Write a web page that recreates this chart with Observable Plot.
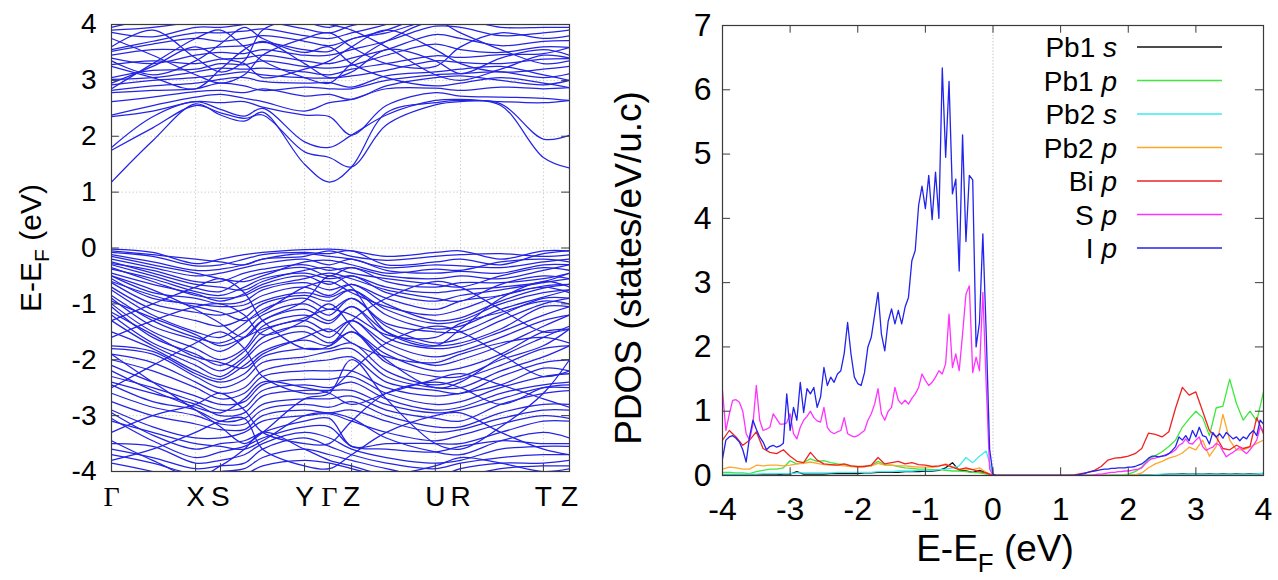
<!DOCTYPE html>
<html><head><meta charset="utf-8">
<script src="https://cdn.jsdelivr.net/npm/d3@7"></script>
<script src="https://cdn.jsdelivr.net/npm/@observablehq/plot@0.6"></script>
<style>
body{margin:0;background:#fff;}
#wrap{position:relative;width:1278px;height:580px;overflow:hidden;background:#fff;}
#left,#right{position:absolute;top:0;}
#left{left:0;} #right{left:600px;}
svg text{font-family:"Liberation Sans",Arial,sans-serif;}
</style></head>
<body><div id="wrap"><div id="left"></div><div id="right"></div></div>
<script>
// ---------- Band structure data ----------
const kPoints = [0, 0.09, 0.1836, 0.2379, 0.29, 0.33, 0.4215, 0.4758, 0.5242, 0.60, 0.707, 0.762, 0.85, 0.943, 1.0];
const kTickPos = [0, 0.1836, 0.2379, 0.4215, 0.4758, 0.5242, 0.707, 0.762, 0.943, 1.0];
const kTickLabels = ["Γ", "X", "S", "Y", "Γ", "Z", "U", "R", "T", "Z"];
const bandYTicks = [-4, -3, -2, -1, 0, 1, 2, 3, 4];

const conductionBands = [
  [1.18, 1.92, 2.58, 2.38, 2.27, 2.43, 1.50, 1.18, 1.45, 2.42, 2.60, 2.64, 2.55, 1.62, 1.43],
  [1.75, 2.15, 2.55, 2.42, 2.32, 2.38, 1.72, 1.62, 1.45, 2.20, 2.56, 2.62, 2.58, 1.95, 2.02],
  [1.80, 2.35, 2.62, 2.48, 2.36, 2.50, 1.90, 1.80, 2.02, 2.38, 2.64, 2.66, 2.62, 2.60, 2.64],
  [2.35, 2.45, 2.62, 2.60, 2.62, 2.52, 2.38, 2.35, 2.02, 2.55, 2.78, 2.72, 2.70, 2.68, 2.64],
  [2.38, 2.55, 2.70, 2.75, 2.68, 2.62, 2.45, 2.60, 2.66, 2.85, 2.86, 2.82, 2.88, 2.85, 2.87],
  [2.62, 2.70, 2.80, 2.82, 2.78, 2.85, 2.72, 2.75, 2.66, 2.90, 3.05, 3.08, 3.00, 2.92, 3.00],
  [2.78, 2.82, 2.85, 2.95, 2.90, 2.82, 2.88, 2.85, 2.85, 3.00, 3.10, 3.12, 3.15, 3.05, 3.12],
  [2.82, 2.90, 2.95, 3.02, 3.05, 2.98, 2.95, 2.96, 2.88, 3.08, 3.15, 3.20, 3.25, 3.10, 3.00],
  [2.92, 3.00, 3.05, 3.10, 3.15, 3.10, 3.05, 3.04, 3.08, 3.18, 3.35, 3.32, 3.30, 3.38, 3.39],
  [3.02, 3.05, 3.15, 3.22, 3.20, 3.22, 3.15, 3.10, 3.20, 3.30, 3.44, 3.41, 3.46, 3.48, 3.59],
  [3.05, 3.18, 3.20, 3.30, 3.28, 3.35, 3.25, 3.22, 3.27, 3.45, 3.65, 3.55, 3.50, 3.60, 3.59],
  [3.28, 3.35, 3.30, 3.38, 3.40, 3.45, 3.35, 3.30, 3.40, 3.55, 3.82, 3.75, 3.62, 3.70, 3.71],
  [3.40, 3.30, 3.45, 3.50, 3.48, 3.55, 3.45, 3.45, 3.55, 3.70, 3.97, 3.95, 3.80, 3.85, 3.90],
  [3.45, 3.55, 3.55, 3.60, 3.62, 3.68, 3.55, 3.52, 3.74, 3.85, 4.10, 4.10, 3.95, 3.95, 3.95],
  [3.52, 3.65, 3.75, 3.70, 3.75, 3.80, 3.70, 3.62, 3.74, 3.90, 4.20, 4.20, 4.10, 4.05, 4.10],
  [3.55, 3.70, 3.85, 3.85, 3.88, 3.92, 3.80, 3.75, 3.85, 4.00, 4.30, 4.30, 4.20, 4.15, 4.20],
  [3.86, 3.78, 3.95, 3.95, 4.00, 4.05, 3.92, 3.85, 3.98, 4.10, 4.40, 4.40, 4.30, 4.25, 4.30],
  [3.90, 3.95, 4.05, 4.10, 4.15, 4.20, 4.05, 3.95, 4.10, 4.20, 4.50, 4.50, 4.40, 4.35, 4.40],
  [3.95, 4.10, 4.20, 4.20, 4.25, 4.30, 4.15, 4.05, 4.20, 4.30, 4.60, 4.60, 4.50, 4.45, 4.50],
  [2.95, 3.25, 3.60, 3.40, 3.30, 3.05, 3.20, 3.35, 3.60, 3.90, 3.55, 3.30, 3.15, 3.20, 3.25],
  [3.25, 3.05, 2.85, 3.20, 3.55, 3.70, 3.30, 3.05, 3.15, 3.55, 3.35, 3.12, 3.40, 3.55, 3.45],
  [3.75, 3.45, 3.10, 2.95, 3.10, 3.45, 3.75, 3.85, 3.60, 3.30, 3.25, 3.60, 3.85, 3.75, 3.80],
  [2.85, 3.30, 3.75, 3.90, 3.60, 3.35, 3.05, 2.95, 3.30, 3.70, 4.05, 3.85, 3.55, 3.30, 3.35],
  [3.60, 3.90, 3.40, 3.15, 3.35, 3.90, 4.10, 4.00, 3.90, 3.60, 3.10, 3.00, 3.20, 3.45, 3.40],
  [3.35, 3.10, 3.35, 3.65, 3.95, 3.75, 3.50, 3.60, 3.30, 3.05, 2.90, 2.95, 3.05, 2.95, 2.87]
];

const valenceBands = [
  [-0.02, -0.08, -0.28, -0.20, -0.12, -0.08, -0.03, -0.02, -0.05, -0.15, -0.08, -0.05, -0.20, -0.05, -0.05],
  [-0.05, -0.12, -0.20, -0.25, -0.30, -0.20, -0.15, -0.05, -0.15, -0.22, -0.15, -0.12, -0.10, -0.15, -0.12],
  [-0.08, -0.15, -0.32, -0.30, -0.20, -0.12, -0.08, -0.10, -0.05, -0.30, -0.25, -0.20, -0.30, -0.10, -0.05],
  [-0.12, -0.25, -0.40, -0.38, -0.30, -0.20, -0.10, -0.15, -0.20, -0.35, -0.30, -0.32, -0.35, -0.25, -0.20],
  [-0.15, -0.30, -0.45, -0.55, -0.60, -0.50, -0.25, -0.22, -0.30, -0.45, -0.38, -0.40, -0.25, -0.20, -0.25],
  [-0.20, -0.35, -0.50, -0.45, -0.35, -0.28, -0.20, -0.30, -0.20, -0.40, -0.45, -0.42, -0.45, -0.30, -0.30],
  [-0.25, -0.45, -0.65, -0.70, -0.75, -0.60, -0.40, -0.35, -0.45, -0.55, -0.65, -0.70, -0.50, -0.35, -0.40],
  [-0.28, -0.40, -0.60, -0.60, -0.45, -0.38, -0.30, -0.40, -0.35, -0.50, -0.55, -0.50, -0.55, -0.40, -0.30],
  [-0.30, -0.50, -0.72, -0.78, -0.55, -0.45, -0.35, -0.50, -0.35, -0.60, -0.70, -0.62, -0.62, -0.55, -0.45],
  [-0.35, -0.60, -0.85, -0.90, -0.85, -0.70, -0.55, -0.45, -0.55, -0.75, -0.90, -0.95, -0.65, -0.50, -0.55],
  [-0.38, -0.55, -0.78, -0.85, -0.70, -0.55, -0.45, -0.55, -0.50, -0.70, -0.80, -0.75, -0.70, -0.60, -0.45],
  [-0.45, -0.65, -0.82, -0.95, -0.82, -0.65, -0.50, -0.65, -0.50, -0.80, -0.95, -0.85, -0.75, -0.62, -0.55],
  [-0.50, -0.80, -0.90, -1.00, -0.95, -0.75, -0.62, -0.75, -0.65, -0.90, -1.10, -0.95, -0.85, -0.68, -0.65],
  [-0.50, -0.75, -1.10, -1.35, -1.60, -1.30, -0.95, -0.50, -0.70, -1.50, -1.75, -1.45, -0.90, -0.60, -0.70],
  [-0.55, -0.90, -1.00, -1.05, -1.02, -0.85, -0.70, -0.85, -0.65, -1.00, -1.30, -1.25, -0.95, -0.72, -0.65],
  [-0.60, -0.85, -1.05, -1.15, -1.30, -1.15, -0.70, -0.60, -0.80, -1.05, -1.20, -1.10, -0.85, -0.70, -0.80],
  [-0.62, -1.00, -1.15, -1.20, -1.10, -0.95, -0.80, -0.88, -0.75, -1.10, -1.35, -1.30, -1.00, -0.80, -0.75],
  [-0.70, -1.10, -1.30, -1.40, -1.25, -1.00, -0.85, -0.95, -0.75, -1.20, -1.45, -1.40, -1.10, -0.88, -0.75],
  [-0.75, -1.20, -1.50, -1.60, -1.35, -1.10, -0.90, -1.10, -0.90, -1.35, -1.50, -1.50, -1.20, -0.90, -0.90],
  [-0.85, -1.30, -1.60, -1.70, -1.50, -1.20, -1.00, -1.20, -0.90, -1.40, -1.70, -1.62, -1.30, -1.00, -0.90],
  [-0.90, -1.40, -1.65, -1.85, -1.60, -1.30, -1.10, -1.30, -1.05, -1.50, -1.75, -1.70, -1.45, -1.05, -1.05],
  [-0.95, -1.25, -1.55, -1.75, -1.60, -1.45, -1.25, -1.10, -1.20, -1.55, -1.60, -1.35, -1.15, -0.95, -1.00],
  [-1.00, -1.50, -1.80, -2.00, -1.80, -1.40, -1.20, -1.35, -1.05, -1.60, -1.80, -1.75, -1.50, -1.20, -1.05],
  [-1.05, -1.60, -1.90, -2.10, -1.85, -1.50, -1.30, -1.50, -1.30, -1.70, -1.95, -1.85, -1.60, -1.30, -1.20],
  [-1.15, -1.55, -1.95, -2.05, -2.15, -1.90, -1.60, -1.45, -1.70, -1.95, -2.05, -1.90, -1.70, -1.60, -1.70],
  [-1.20, -1.70, -2.00, -2.20, -1.95, -1.60, -1.40, -1.60, -1.30, -1.80, -2.10, -2.00, -1.75, -1.40, -1.20],
  [-1.30, -1.00, -0.70, -0.55, -0.80, -1.30, -1.80, -1.75, -1.30, -0.90, -0.60, -0.70, -1.10, -1.50, -1.45],
  [-1.30, -1.75, -2.10, -2.30, -2.00, -1.70, -1.50, -1.70, -1.50, -1.90, -2.20, -2.15, -1.90, -1.50, -1.45],
  [-1.50, -1.80, -2.20, -2.35, -2.10, -1.85, -1.65, -1.75, -1.50, -2.05, -2.30, -2.30, -2.00, -1.75, -1.45],
  [-1.60, -1.30, -1.05, -1.00, -1.20, -1.55, -1.30, -1.00, -1.40, -2.00, -2.50, -2.40, -1.95, -1.60, -1.40],
  [-1.75, -1.85, -2.25, -2.40, -2.25, -1.95, -1.80, -1.80, -1.70, -2.20, -2.45, -2.35, -2.10, -1.80, -1.75],
  [-1.80, -1.90, -2.30, -2.50, -2.35, -2.05, -1.95, -1.85, -1.80, -2.30, -2.50, -2.50, -2.20, -1.95, -1.75],
  [-1.90, -2.05, -2.40, -2.60, -2.50, -2.20, -2.05, -2.00, -1.95, -2.40, -2.55, -2.60, -2.30, -2.05, -2.00],
  [-1.90, -2.40, -2.90, -3.20, -3.50, -3.30, -2.70, -2.60, -2.00, -2.70, -3.50, -3.60, -3.20, -2.60, -2.00],
  [-2.00, -2.20, -2.50, -2.70, -2.60, -2.30, -2.20, -2.20, -2.20, -2.50, -2.65, -2.60, -2.45, -2.15, -2.20],
  [-2.10, -2.40, -2.65, -2.80, -2.75, -2.45, -2.35, -2.35, -2.30, -2.60, -2.80, -2.75, -2.50, -2.30, -2.25],
  [-2.20, -2.55, -2.85, -2.95, -2.70, -2.40, -2.50, -2.60, -2.80, -2.60, -2.35, -2.25, -2.45, -2.70, -2.85],
  [-2.30, -2.50, -2.75, -2.90, -2.85, -2.55, -2.45, -2.50, -2.40, -2.70, -2.90, -2.85, -2.60, -2.45, -2.40],
  [-2.40, -2.60, -2.80, -3.00, -2.95, -2.65, -2.55, -2.55, -2.55, -2.80, -2.95, -2.90, -2.70, -2.50, -2.50],
  [-2.45, -2.75, -2.90, -3.10, -3.05, -2.80, -2.70, -2.70, -2.65, -2.90, -3.05, -3.10, -2.80, -2.60, -2.55],
  [-2.50, -2.10, -1.70, -1.50, -1.80, -2.30, -2.60, -2.55, -2.20, -1.70, -1.40, -1.50, -1.90, -2.30, -2.20],
  [-2.60, -2.85, -3.00, -3.15, -3.15, -2.90, -2.80, -2.85, -2.75, -3.00, -3.20, -3.20, -2.95, -2.80, -2.80],
  [-2.75, -3.00, -3.15, -3.25, -3.25, -3.00, -2.90, -2.95, -2.90, -3.10, -3.30, -3.25, -3.05, -2.90, -2.90],
  [-2.90, -3.20, -3.40, -3.40, -3.30, -3.10, -3.00, -2.97, -3.10, -3.30, -3.45, -3.35, -3.15, -3.00, -3.05],
  [-2.95, -3.35, -3.60, -3.50, -3.45, -3.30, -3.10, -3.05, -3.55, -3.50, -3.50, -3.50, -3.30, -3.10, -3.10],
  [-3.05, -3.45, -3.75, -3.65, -3.55, -3.40, -3.20, -3.20, -3.55, -3.60, -3.65, -3.55, -3.45, -3.50, -3.50],
  [-3.10, -3.30, -3.50, -3.55, -3.60, -3.45, -3.00, -2.95, -3.05, -3.40, -3.65, -3.70, -3.45, -3.30, -3.40],
  [-3.30, -3.00, -2.80, -2.60, -2.90, -3.30, -3.50, -3.50, -3.10, -2.60, -2.40, -2.50, -2.80, -2.50, -2.45],
  [-3.45, -3.80, -4.10, -3.90, -3.60, -3.30, -3.60, -3.80, -3.90, -4.05, -3.90, -3.75, -3.85, -4.00, -3.95],
  [-3.50, -3.55, -3.85, -3.80, -3.70, -3.50, -3.30, -3.40, -3.60, -3.75, -3.85, -3.80, -3.60, -3.55, -3.55],
  [-3.60, -3.75, -3.95, -3.90, -3.85, -3.60, -3.40, -3.55, -3.70, -3.85, -3.95, -3.85, -3.75, -3.70, -3.70],
  [-3.70, -3.85, -4.05, -4.00, -3.95, -3.75, -3.60, -3.70, -3.80, -3.95, -4.10, -3.95, -3.85, -3.85, -3.80],
  [-3.80, -3.60, -3.30, -3.10, -3.05, -3.60, -3.90, -3.95, -3.70, -3.30, -3.00, -2.95, -3.30, -3.60, -3.70],
  [-3.85, -4.00, -4.20, -4.10, -4.05, -3.90, -3.80, -3.85, -3.95, -4.10, -4.20, -4.10, -3.95, -3.90, -3.90]
];

// ---------- PDOS data ----------
const seriesNames = ["Pb1 s", "Pb1 p", "Pb2 s", "Pb2 p", "Bi p", "S p", "I p"];
const seriesColors = ["#111111", "#3ee83e", "#3eeaf0", "#ffa62b", "#ee2424", "#ff33ff", "#2323ee"];
const pdosXTicks = [-4, -3, -2, -1, 0, 1, 2, 3, 4];
const pdosYTicks = [0, 1, 2, 3, 4, 5, 6, 7];

// fine grid: -4.00 .. 4.00 step 0.05 (161 samples)
const energyFine = d3.range(161).map(i => +(-4 + i * 0.05).toFixed(2));
// coarse grid: -4.0 .. 4.0 step 0.1 (81 samples)
const energyCoarse = d3.range(81).map(i => +(-4 + i * 0.1).toFixed(1));

const iP = [
  0.26, 0.55, 0.60, 0.62, 0.58, 0.52, 0.40, 0.21, 0.60, 0.86,
  0.72, 0.60, 0.52, 0.40, 0.45, 0.47, 0.44, 0.46, 0.50, 1.27,
  0.70, 1.06, 0.86, 1.45, 0.98, 1.35, 1.27, 1.37, 1.06, 1.22,
  1.68, 1.40, 1.53, 1.45, 1.58, 1.63, 1.90, 2.38, 1.89, 1.53,
  1.43, 1.40, 1.60, 2.00, 2.15, 2.50, 2.85, 2.20, 1.94, 2.40,
  2.59, 2.36, 2.57, 2.36, 2.62, 2.77, 3.34, 3.50, 4.20, 4.50,
  4.15, 4.67, 3.98, 4.72, 4.00, 6.34, 4.95, 6.13, 4.38, 4.61,
  3.18, 5.30, 3.64, 4.67, 4.60, 2.00, 2.38, 3.76, 2.20, 0.41,
  0.02,
  0, 0, 0, 0, 0, 0, 0, 0, 0, 0, 0, 0, 0, 0, 0, 0, 0, 0, 0, 0, 0, 0, 0, 0,
  0.01, 0.02, 0.03, 0.05, 0.06, 0.07, 0.08, 0.09, 0.10, 0.10,
  0.11, 0.11, 0.12, 0.12, 0.12, 0.13, 0.13, 0.14, 0.16, 0.18,
  0.22, 0.27, 0.30, 0.30, 0.29, 0.30, 0.31, 0.34, 0.39, 0.45,
  0.60, 0.55, 0.62, 0.54, 0.70, 0.60, 0.75, 0.62, 0.60, 0.49,
  0.67, 0.60, 0.65, 0.58, 0.67, 0.62, 0.57, 0.60, 0.54, 0.60,
  0.57, 0.65, 0.70, 0.62, 0.86, 0.80
];
const sP = [
  1.32, 0.70, 0.95, 1.17, 1.18, 1.14, 1.00, 0.65, 0.55, 0.80,
  1.40, 0.86, 0.70, 0.72, 0.75, 0.96, 0.88, 0.80, 0.80, 0.82,
  0.96, 0.65, 0.57, 0.75, 0.86, 0.92, 1.00, 0.90, 0.85, 0.83,
  1.06, 0.75, 0.68, 0.65, 0.68, 0.70, 0.90, 0.65, 0.62, 0.60,
  0.62, 0.66, 0.70, 0.86, 0.96, 1.11, 1.35, 0.96, 0.86, 1.00,
  1.06, 1.37, 1.17, 1.11, 1.17, 1.11, 1.20, 1.27, 1.37, 1.58,
  1.48, 1.40, 1.45, 1.53, 1.63, 1.58, 1.74, 2.51, 1.68, 1.89,
  1.63, 2.20, 2.82, 2.95, 1.60, 1.84, 1.63, 2.85, 1.40, 0.10,
  0,
  0, 0, 0, 0, 0, 0, 0, 0, 0, 0, 0, 0, 0, 0, 0, 0, 0, 0, 0, 0, 0, 0, 0, 0, 0, 0, 0, 0, 0,
  0.01, 0.02, 0.02, 0.03, 0.04, 0.05, 0.05, 0.06, 0.06, 0.07,
  0.07, 0.08, 0.09, 0.10, 0.12, 0.18, 0.23, 0.26, 0.27, 0.29,
  0.30, 0.32, 0.34, 0.36, 0.40, 0.47, 0.50, 0.57, 0.50, 0.49,
  0.55, 0.60, 0.45, 0.39, 0.42, 0.44, 0.50, 0.47, 0.38, 0.29,
  0.33, 0.36, 0.40, 0.44, 0.38, 0.34, 0.40, 0.47, 0.55, 0.75,
  0.70
];
const biP = [
  0.55, 0.70, 0.60, 0.47, 0.55, 0.68, 0.42, 0.36, 0.34, 0.40,
  0.30, 0.22, 0.20, 0.36, 0.24, 0.18, 0.17, 0.16, 0.18, 0.15,
  0.14, 0.14, 0.16, 0.28, 0.18, 0.20, 0.22, 0.18, 0.20, 0.17,
  0.16, 0.14, 0.15, 0.17, 0.13, 0.09, 0.12, 0.09, 0.06, 0.04,
  0,
  0, 0, 0, 0, 0, 0, 0, 0, 0, 0, 0,
  0.01, 0.03, 0.05, 0.08, 0.14, 0.24, 0.27, 0.28, 0.30, 0.34,
  0.42, 0.66, 0.64, 0.60, 0.68, 1.05, 1.37, 1.25, 1.30, 1.00,
  0.70, 0.60, 0.42, 0.40, 0.47, 0.42, 0.45, 0.90, 0.65
];
const pb1P = [
  0.05, 0.05, 0.04, 0.04, 0.03, 0.06, 0.08, 0.10, 0.10, 0.12,
  0.23, 0.18, 0.20, 0.26, 0.22, 0.23, 0.20, 0.18, 0.17, 0.15,
  0.13, 0.14, 0.15, 0.22, 0.17, 0.16, 0.14, 0.12, 0.11, 0.10,
  0.10, 0.09, 0.09, 0.08, 0.07, 0.07, 0.06, 0.05, 0.04, 0.02,
  0,
  0, 0, 0, 0, 0, 0, 0, 0, 0, 0, 0,
  0, 0, 0, 0, 0, 0, 0.01, 0.01, 0.02, 0.06,
  0.13, 0.25, 0.31, 0.37, 0.45, 0.55, 0.75, 0.88, 1.00, 0.90,
  0.62, 1.05, 1.08, 1.50, 1.12, 0.86, 1.00, 0.85, 1.30
];
const pb2P = [
  0.10, 0.13, 0.12, 0.10, 0.10, 0.16, 0.15, 0.16, 0.16, 0.15,
  0.16, 0.18, 0.19, 0.21, 0.19, 0.17, 0.16, 0.16, 0.15, 0.14,
  0.13, 0.14, 0.15, 0.19, 0.16, 0.16, 0.15, 0.15, 0.14, 0.13,
  0.13, 0.13, 0.14, 0.18, 0.13, 0.10, 0.10, 0.09, 0.12, 0.05,
  0,
  0, 0, 0, 0, 0, 0, 0, 0, 0, 0, 0,
  0, 0, 0, 0, 0, 0, 0, 0, 0, 0.01,
  0.04, 0.12, 0.18, 0.22, 0.27, 0.30, 0.35, 0.44, 0.40, 0.55,
  0.30, 0.45, 0.95, 0.55, 0.40, 0.40, 0.44, 0.50, 0.55
];
const pb2S = [
  0.02, 0.02, 0.02, 0.02, 0.02, 0.02, 0.03, 0.03, 0.03, 0.03,
  0.03, 0.04, 0.04, 0.04, 0.04, 0.04, 0.04, 0.05, 0.05, 0.05,
  0.05, 0.05, 0.05, 0.06, 0.06, 0.06, 0.07, 0.07, 0.07, 0.08,
  0.08, 0.08, 0.09, 0.10, 0.12, 0.15, 0.28, 0.20, 0.30, 0.38,
  0,
  0, 0, 0, 0, 0, 0, 0, 0, 0, 0, 0,
  0, 0, 0, 0, 0, 0, 0, 0, 0, 0.005,
  0.01, 0.01, 0.015, 0.02, 0.02, 0.02, 0.02, 0.02, 0.025, 0.02,
  0.02, 0.02, 0.02, 0.02, 0.02, 0.02, 0.02, 0.02, 0.04
];
const pb1S = [
  0.01, 0.01, 0.01, 0.01, 0.01, 0.01, 0.01, 0.01, 0.01, 0.02,
  0.02, 0.06, 0.02, 0.02, 0.02, 0.02, 0.03, 0.03, 0.03, 0.03,
  0.03, 0.04, 0.04, 0.05, 0.05, 0.05, 0.05, 0.06, 0.06, 0.06,
  0.07, 0.07, 0.08, 0.12, 0.20, 0.08, 0.07, 0.05, 0.08, 0.04,
  0,
  0, 0, 0, 0, 0, 0, 0, 0, 0, 0, 0,
  0, 0, 0, 0, 0, 0, 0, 0, 0, 0.005,
  0.01, 0.01, 0.01, 0.015, 0.02, 0.02, 0.03, 0.02, 0.03, 0.02,
  0.03, 0.02, 0.03, 0.02, 0.03, 0.02, 0.03, 0.02, 0.03
];

// ---------- build tables ----------
const bandColor = "#2424e4";
const bandRows = [];
[...valenceBands, ...conductionBands].forEach((b, bi) =>
  b.forEach((e, i) => bandRows.push({k: kPoints[i], e, band: bi})));
const kLabelMap = new Map(kTickPos.map((p, i) => [p, kTickLabels[i]]));

const seriesValues = [pb1S, pb1P, pb2S, pb2P, biP, sP, iP];
const seriesGrids = [energyCoarse, energyCoarse, energyCoarse, energyCoarse, energyCoarse, energyFine, energyFine];
const pdosRows = seriesValues.map((vals, si) =>
  vals.map((v, i) => ({E: seriesGrids[si][i], v, s: seriesNames[si]})).filter(d => d.E !== undefined));

const FONT = "Liberation Sans, Arial, sans-serif";
const frameColor = "#3a3a3a";

// ---------- left: band structure ----------
const left = Plot.plot({
  width: 600, height: 580,
  marginLeft: 111, marginRight: 31, marginTop: 24, marginBottom: 109,
  style: {fontSize: "28px", fontFamily: FONT, background: "white", color: "black", overflow: "visible"},
  x: {domain: [0, 1]},
  y: {domain: [-4, 4]},
  marks: [
    Plot.gridX(kTickPos, {stroke: "#9a9a9a", strokeOpacity: 0.7, strokeDasharray: "1.2,2.4", strokeWidth: 0.8}),
    Plot.gridY(bandYTicks, {stroke: "#9a9a9a", strokeOpacity: 0.7, strokeDasharray: "1.2,2.4", strokeWidth: 0.8}),
    Plot.line(bandRows, {x: "k", y: "e", z: "band", stroke: bandColor, strokeWidth: 1.25, curve: "catmull-rom", clip: true}),
    Plot.ruleY(bandYTicks, {x1: 0, x2: 0.017, stroke: frameColor}),
    Plot.ruleY(bandYTicks, {x1: 0.983, x2: 1, stroke: frameColor}),
    Plot.ruleX(kTickPos, {y1: -4, y2: -3.86, stroke: frameColor}),
    Plot.frame({stroke: frameColor, strokeWidth: 1.2}),
    Plot.axisY(bandYTicks, {tickSize: 0, tickPadding: 15, tickFormat: d => String(d), label: null}),
    Plot.axisX(kTickPos, {tickSize: 0, tickPadding: 15, tickFormat: d => kLabelMap.get(d), label: null})
  ]
});
document.getElementById("left").appendChild(left);

// ---------- right: PDOS ----------
const lineMarks = pdosRows.map((rows, si) =>
  Plot.line(rows, {x: "E", y: "v", stroke: seriesColors[si], strokeWidth: 1.3, clip: true}));
const right = Plot.plot({
  width: 678, height: 580,
  marginLeft: 122, marginRight: 15, marginTop: 25, marginBottom: 105,
  style: {fontSize: "32px", fontFamily: FONT, background: "white", color: "black", overflow: "visible"},
  x: {domain: [-4, 4]},
  y: {domain: [0, 7]},
  marks: [
    Plot.ruleX([0], {stroke: "#b5b5b5", strokeDasharray: "1.2,2", strokeWidth: 0.9}),
    ...lineMarks,
    Plot.ruleX(pdosXTicks, {y1: 0, y2: 0.12, stroke: frameColor}),
    Plot.ruleX(pdosXTicks, {y1: 6.88, y2: 7, stroke: frameColor}),
    Plot.ruleY(pdosYTicks, {x1: -4, x2: -3.88, stroke: frameColor}),
    Plot.ruleY(pdosYTicks, {x1: 3.88, x2: 4, stroke: frameColor}),
    Plot.frame({stroke: frameColor, strokeWidth: 1.2}),
    Plot.axisY(pdosYTicks, {tickSize: 0, tickPadding: 11, tickFormat: d => String(d), label: null}),
    Plot.axisX(pdosXTicks, {tickSize: 0, tickPadding: 22, tickFormat: d => String(d), label: null})
  ]
});
document.getElementById("right").appendChild(right);

// serif capital gamma like the original symbol font
d3.select(left).selectAll("text").filter(function() { return this.textContent === "Γ"; })
  .style("font-family", "Liberation Serif, DejaVu Serif, serif");

// ---------- axis titles with subscript ----------
function addTitle(svg, x, y, rotate, parts, size) {
  const t = d3.select(svg).append("text")
    .attr("transform", `translate(${x},${y}) rotate(${rotate})`)
    .attr("text-anchor", "middle")
    .attr("dy", "0.36em")
    .style("font-family", FONT).style("font-size", size + "px").attr("fill", "black");
  parts.forEach(p => {
    if (p.sub) {
      t.append("tspan").text(p.t).style("font-size", (size * 0.7) + "px").attr("dy", size * 0.28);
    } else {
      const ts = t.append("tspan").text(p.t);
      if (p.after) ts.attr("dy", -size * 0.28);
    }
  });
}
const eLabel = [{t: "E-E"}, {t: "F", sub: true}, {t: " (eV)", after: true}];
addTitle(left, 30, 248, -90, eLabel, 30);
addTitle(right, 28, 268, -90, [{t: "PDOS (states/eV/u.c)"}], 37);
addTitle(right, 395, 548, 0, eLabel, 37);

// ---------- legend ----------
const legend = d3.select(right).append("g");
seriesNames.forEach((name, i) => {
  const y = 47 + i * 33.5;
  const [el, orb] = name.split(" ");
  const t = legend.append("text").attr("x", 517).attr("y", y).attr("dy", "0.36em")
    .attr("text-anchor", "end").style("font-family", FONT).style("font-size", "28px").attr("fill", "black");
  t.append("tspan").text(el + " ");
  t.append("tspan").text(orb).style("font-style", "italic");
  legend.append("line").attr("x1", 537).attr("x2", 622).attr("y1", y).attr("y2", y)
    .attr("stroke", seriesColors[i]).attr("stroke-width", 1.6);
});
</script></body></html>
